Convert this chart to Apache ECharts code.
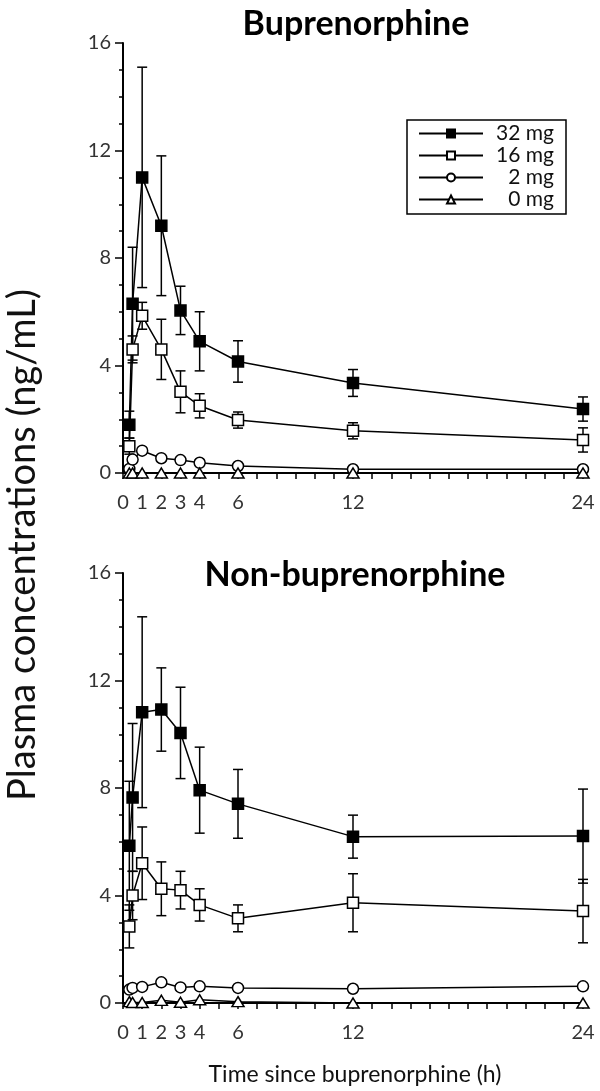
<!DOCTYPE html>
<html>
<head>
<meta charset="utf-8">
<script src="https://cdn.jsdelivr.net/npm/echarts@6/dist/echarts.min.js"></script>
<style>
  html, body { margin: 0; padding: 0; background: #fff; }
  #main { width: 600px; height: 1091px; }
</style>
</head>
<body>
<div id="main"></div>
<script>
// sampling times (h)
var times = [0.33, 0.5, 1, 2, 3, 4, 6, 12, 24];
var xTickLabels = [0, 1, 2, 3, 4, 6, 12, 24];
var doseNames = ['32 mg', '16 mg', '2 mg', '0 mg'];

// Buprenorphine panel: mean and SD per dose
var bup32 = [1.8, 6.3, 11.0, 9.2, 6.05, 4.9, 4.15, 3.35, 2.38];
var bup32sd = [0.5, 2.1, 4.1, 2.6, 0.9, 1.1, 0.77, 0.5, 0.45];
var bup16 = [1.0, 4.6, 5.85, 4.6, 3.02, 2.5, 1.97, 1.57, 1.23];
var bup16sd = [0.3, 0.5, 0.5, 1.12, 0.78, 0.45, 0.3, 0.3, 0.45];
var bup2 = [0.15, 0.5, 0.83, 0.55, 0.48, 0.38, 0.26, 0.14, 0.14];
var bup2sd = [0.1, 0.1, 0.1, 0.1, 0.1, 0.1, 0.05, 0.05, 0.05];
var bup0 = [0, 0, 0, 0, 0, 0, 0, 0, 0];

// Non-buprenorphine panel
var nb32 = [5.85, 7.65, 10.82, 10.92, 10.05, 7.92, 7.41, 6.19, 6.21];
var nb32sd = [2.4, 2.75, 3.55, 1.55, 1.7, 1.6, 1.28, 0.8, 1.75];
var nb16 = [2.85, 4.0, 5.2, 4.25, 4.2, 3.65, 3.15, 3.73, 3.42];
var nb16sd = [0.8, 0.9, 1.35, 1.0, 0.7, 0.6, 0.5, 1.08, 1.18];
var nb2 = [0.5, 0.56, 0.6, 0.77, 0.58, 0.62, 0.56, 0.53, 0.62];
var nb2sd = [0.1, 0.1, 0.1, 0.1, 0.1, 0.1, 0.1, 0.1, 0.1];
var nb0 = [0.05, 0.02, 0.02, 0.1, 0.03, 0.12, 0.05, 0, 0];

var FONT = 'Lato, "Open Sans", sans-serif';
var chart = echarts.init(document.getElementById('main'));

function pairs(ys) {
    return times.map(function (t, i) { return [t, ys[i]]; });
}
function bars(ys, sd) {
    return times.map(function (t, i) { return [t, ys[i] - sd[i], ys[i] + sd[i]]; });
}

// vertical SD bar with caps
function errSeries(ys, sd, idx) {
    return {
        name: 'err',
        type: 'custom',
        xAxisIndex: idx,
        yAxisIndex: idx,
        z: 1,
        silent: true,
        data: bars(ys, sd),
        renderItem: function (params, api) {
            var top = api.coord([api.value(0), api.value(2)]);
            var bot = api.coord([api.value(0), api.value(1)]);
            var w = 5;
            var st = { stroke: '#000', lineWidth: 1.5 };
            return {
                type: 'group',
                children: [
                    { type: 'line', shape: { x1: top[0], y1: top[1], x2: bot[0], y2: bot[1] }, style: st },
                    { type: 'line', shape: { x1: top[0] - w, y1: top[1], x2: top[0] + w, y2: top[1] }, style: st },
                    { type: 'line', shape: { x1: bot[0] - w, y1: bot[1], x2: bot[0] + w, y2: bot[1] }, style: st }
                ]
            };
        }
    };
}

var symbols = {
    '32 mg': { symbol: 'rect', symbolSize: 11, fill: '#000' },
    '16 mg': { symbol: 'rect', symbolSize: 11, fill: '#fff' },
    '2 mg': { symbol: 'circle', symbolSize: 11, fill: '#fff' },
    '0 mg': { symbol: 'triangle', symbolSize: [12, 10], fill: '#fff' }
};

function lineSeries(name, ys, idx) {
    var s = symbols[name];
    return {
        name: name,
        type: 'line',
        xAxisIndex: idx,
        yAxisIndex: idx,
        z: 3,
        symbol: s.symbol,
        symbolSize: s.symbolSize,
        showAllSymbol: true,
        lineStyle: { color: '#000', width: 1.5 },
        itemStyle: { color: s.fill, borderColor: '#000', borderWidth: 1.5 },
        data: pairs(ys)
    };
}

function xAxisOf(idx) {
    return {
        type: 'value',
        gridIndex: idx,
        min: 0,
        max: 24,
        interval: 1,
        offset: 15,
        splitLine: { show: false },
        axisLine: { lineStyle: { color: '#000', width: 2 } },
        axisTick: { length: 6, lineStyle: { color: '#000', width: 1.5 } },
        axisLabel: {
            color: '#333',
            fontFamily: FONT,
            fontSize: 20,
            margin: 5,
            formatter: function (v) { return xTickLabels.indexOf(v) >= 0 ? String(v) : ''; }
        }
    };
}

function yAxisOf(idx) {
    return {
        type: 'value',
        gridIndex: idx,
        min: 0,
        max: 16,
        interval: 4,
        splitLine: { show: false },
        axisLine: { show: true, lineStyle: { color: '#000', width: 2 } },
        axisTick: { show: true, length: 8, lineStyle: { color: '#000', width: 1.5 } },
        minorTick: { show: true, splitNumber: 4, length: 4, lineStyle: { color: '#000', width: 1.5 } },
        axisLabel: { color: '#333', fontFamily: FONT, fontSize: 20, margin: 12 }
    };
}

var option = {
    animation: false,
    backgroundColor: '#fff',
    grid: [
        { left: 123, top: 43, width: 460, height: 430 },
        { left: 123, top: 573, width: 460, height: 430 }
    ],
    xAxis: [xAxisOf(0), xAxisOf(1)],
    yAxis: [yAxisOf(0), yAxisOf(1)],
    legend: {
        data: doseNames,
        orient: 'vertical',
        left: 407,
        top: 120,
        itemWidth: 64,
        itemHeight: 10,
        itemGap: 1,
        padding: [3, 12, 4, 11],
        borderColor: '#000',
        borderWidth: 1.5,
        selectedMode: false,
        formatter: function (name) { return '{t|' + name + '}'; },
        textStyle: {
            fontFamily: FONT,
            fontSize: 21,
            lineHeight: 20,
            color: '#111',
            rich: {
                t: { fontFamily: FONT, fontSize: 21, color: '#111', width: 66, align: 'right', lineHeight: 20 }
            }
        }
    },
    graphic: [
        { type: 'text', x: 356, y: 24, style: { text: 'Buprenorphine', font: 'bold 34px ' + FONT, fill: '#000', textAlign: 'center', textVerticalAlign: 'middle' } },
        { type: 'text', x: 355, y: 575, style: { text: 'Non-buprenorphine', font: 'bold 34px ' + FONT, fill: '#000', textAlign: 'center', textVerticalAlign: 'middle' } },
        { type: 'text', x: 23, y: 545, rotation: Math.PI / 2, style: { text: 'Plasma concentrations (ng/mL)', font: '38px ' + FONT, fill: '#111', textAlign: 'center', textVerticalAlign: 'middle' } },
        { type: 'text', x: 355, y: 1075, style: { text: 'Time since buprenorphine (h)', font: '23px ' + FONT, fill: '#111', textAlign: 'center', textVerticalAlign: 'middle' } }
    ],
    series: [
        errSeries(bup32, bup32sd, 0),
        errSeries(bup16, bup16sd, 0),
        errSeries(bup2, bup2sd, 0),
        lineSeries('32 mg', bup32, 0),
        lineSeries('16 mg', bup16, 0),
        lineSeries('2 mg', bup2, 0),
        lineSeries('0 mg', bup0, 0),
        errSeries(nb32, nb32sd, 1),
        errSeries(nb16, nb16sd, 1),
        errSeries(nb2, nb2sd, 1),
        lineSeries('32 mg', nb32, 1),
        lineSeries('16 mg', nb16, 1),
        lineSeries('2 mg', nb2, 1),
        lineSeries('0 mg', nb0, 1)
    ]
};

chart.setOption(option);
</script>
</body>
</html>
